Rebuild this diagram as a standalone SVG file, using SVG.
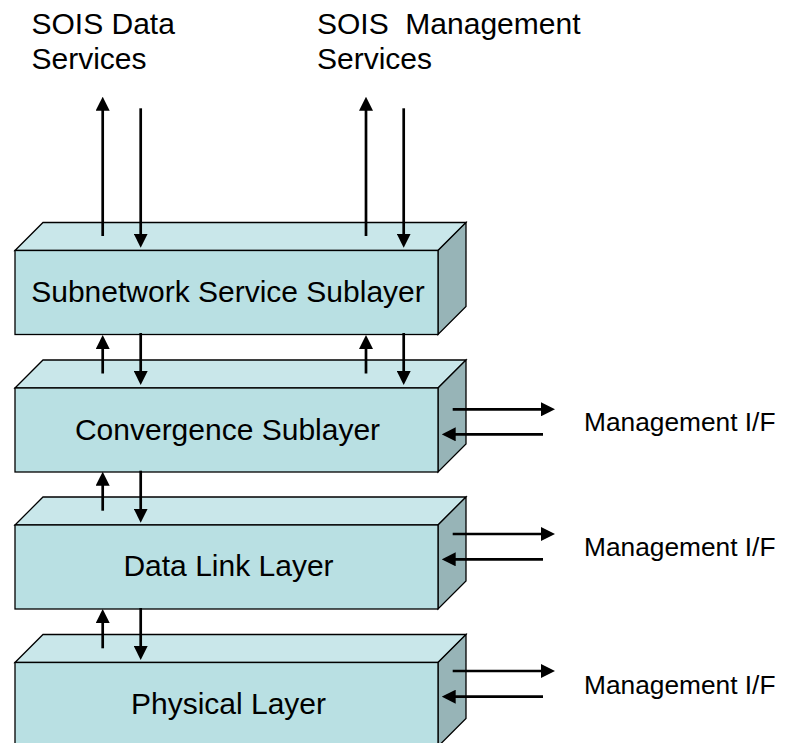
<svg xmlns="http://www.w3.org/2000/svg" width="786" height="743" viewBox="0 0 786 743">
<style>
  .front { fill: #B9E0E3; stroke: #000; stroke-width: 1.3; }
  .top { fill: #C9E7EA; stroke: #000; stroke-width: 1.3; stroke-linejoin: miter; }
  .side { fill: #97B4B7; stroke: #000; stroke-width: 1.3; }
  .lbl { font-family: "Liberation Sans", Arial, sans-serif; font-size: 30px; fill: #000; }
  .mgmt { font-family: "Liberation Sans", Arial, sans-serif; font-size: 26.3px; fill: #000; }
  .arr { stroke: #000; stroke-width: 2.7; fill: none; marker-end: url(#ah); }
</style>
<defs>
  <marker id="ah" markerUnits="userSpaceOnUse" markerWidth="14" markerHeight="14" refX="7" refY="7" orient="auto" viewBox="0 0 14 14">
    <path d="M0,0 L14,7 L0,14 z" fill="#000"/>
  </marker>
</defs>
<rect width="786" height="743" fill="#fff"/>

<g id="label-data-services">
  <text class="lbl" x="31.5" y="33.5">SOIS Data</text>
  <text class="lbl" x="31.5" y="68.5">Services</text>
</g>
<g id="label-mgmt-services">
  <text class="lbl" x="317" y="33.5" xml:space="preserve">SOIS  Management</text>
  <text class="lbl" x="317" y="68.5">Services</text>
</g>

<g id="subnetwork-service-sublayer">
  <polygon class="top" points="15,250.5 43,222.5 466,222.5 438,250.5"/>
  <polygon class="side" points="438,250.5 466,222.5 466,306.5 438,334.5"/>
  <rect class="front" x="15" y="250.5" width="423" height="84"/>
  <text class="lbl" x="228" y="302" text-anchor="middle">Subnetwork Service Sublayer</text>
</g>
<g id="convergence-sublayer">
  <polygon class="top" points="15,388 43,360 466,360 438,388"/>
  <polygon class="side" points="438,388 466,360 466,444 438,472"/>
  <rect class="front" x="15" y="388" width="423" height="84"/>
  <text class="lbl" x="227.5" y="440" text-anchor="middle">Convergence Sublayer</text>
</g>
<g id="data-link-layer">
  <polygon class="top" points="15,525 43,497 466,497 438,525"/>
  <polygon class="side" points="438,525 466,497 466,581 438,609"/>
  <rect class="front" x="15" y="525" width="423" height="84"/>
  <text class="lbl" x="228.5" y="576" text-anchor="middle">Data Link Layer</text>
</g>
<g id="physical-layer">
  <polygon class="top" points="15,662.5 43,634.5 466,634.5 438,662.5"/>
  <polygon class="side" points="438,662.5 466,634.5 466,718.5 438,746.5"/>
  <rect class="front" x="15" y="662.5" width="423" height="84"/>
  <text class="lbl" x="228.5" y="714" text-anchor="middle">Physical Layer</text>
</g>

<g id="mgmt-labels">
  <text class="mgmt" x="584" y="431">Management I/F</text>
  <text class="mgmt" x="584" y="556">Management I/F</text>
  <text class="mgmt" x="584" y="693.5">Management I/F</text>
</g>

<g id="connectors">
  <line class="arr" x1="102.7" y1="236" x2="102.7" y2="103.7"/>
  <line class="arr" x1="140.7" y1="108.3" x2="140.7" y2="240.7"/>
  <line class="arr" x1="366" y1="236" x2="366" y2="103.7"/>
  <line class="arr" x1="403.7" y1="108.3" x2="403.7" y2="240.7"/>
  <line class="arr" x1="102.7" y1="373.5" x2="102.7" y2="342"/>
  <line class="arr" x1="140.7" y1="333" x2="140.7" y2="378"/>
  <line class="arr" x1="366" y1="373.5" x2="366" y2="342"/>
  <line class="arr" x1="403.7" y1="333" x2="403.7" y2="378"/>
  <line class="arr" x1="102.7" y1="510.7" x2="102.7" y2="478.7"/>
  <line class="arr" x1="140.7" y1="470.7" x2="140.7" y2="515.7"/>
  <line class="arr" x1="102.7" y1="648.3" x2="102.7" y2="616"/>
  <line class="arr" x1="140.7" y1="608" x2="140.7" y2="653"/>
  <line class="arr" x1="452.7" y1="409.3" x2="548" y2="409.3"/>
  <line class="arr" x1="543" y1="434.3" x2="448.7" y2="434.3"/>
  <line class="arr" x1="452.7" y1="534" x2="548" y2="534"/>
  <line class="arr" x1="543" y1="559.3" x2="448.7" y2="559.3"/>
  <line class="arr" x1="452.7" y1="671" x2="548" y2="671"/>
  <line class="arr" x1="543" y1="696.7" x2="448.7" y2="696.7"/>
</g>
</svg>
